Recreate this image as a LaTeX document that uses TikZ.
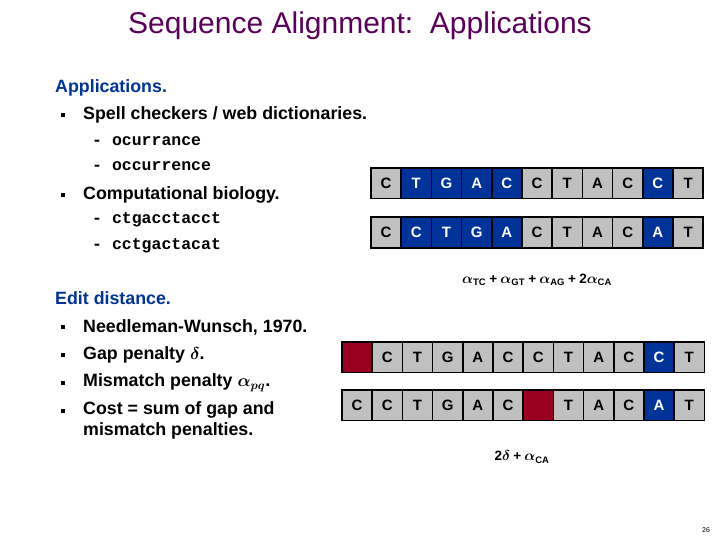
\documentclass[tikz,border=0pt]{standalone}
\usepackage{amsmath,amssymb,bm}
\usepackage{fontspec}
\setmainfont{Liberation Sans}
\setmonofont{Liberation Mono}
\definecolor{ttl}{RGB}{90,0,90}
\definecolor{hd}{RGB}{0,51,153}
\definecolor{cb}{RGB}{0,51,153}
\definecolor{cr}{RGB}{153,0,31}
\definecolor{cg}{RGB}{192,192,192}
\begin{document}
\begin{tikzpicture}[x=1pt,y=-1pt,
  txt/.style={anchor=west,inner sep=0,font=\bfseries\fontsize{17.8}{21}\selectfont},
  code/.style={anchor=west,inner sep=0,font=\ttfamily\bfseries\fontsize{16.5}{19}\selectfont},
  bul/.style={anchor=center,inner sep=0,minimum size=4pt,fill=black},
  cell/.style={draw=black,line width=1.5pt,fill=cg,minimum width=30.2pt,minimum height=30.5pt,inner sep=0,font=\bfseries\fontsize{15}{18}\selectfont},
  bc/.style={cell,fill=cb,text=white},
  rc/.style={cell,fill=cr},
  math/.style={inner sep=0,font=\bfseries\fontsize{13.5}{16}\selectfont}]
\useasboundingbox (0,0) rectangle (720,540);
\node[inner sep=0,text=ttl,font=\fontsize{30}{34}\selectfont] (title) at (360,26) {Sequence Alignment:\ \ Applications};
\node[txt,text=hd] (h1) at (55,88) {Applications.};
\node[bul] (b1) at (63,115) {}; \node[txt] (t1) at (83,115) {Spell checkers / web dictionaries.};
\node[code] (c1) at (92,141) {- ocurrance};
\node[code] (c2) at (92,166) {- occurrence};
\node[bul] (b2) at (63,195) {}; \node[txt] (t2) at (83,195) {Computational biology.};
\node[code] (c3) at (92,220) {- ctgacctacct};
\node[code] (c4) at (92,246) {- cctgactacat};
\node[txt,text=hd] (h2) at (55,298) {Edit distance.};
\node[bul] (b3) at (63,327) {}; \node[txt] (t3) at (83,327) {Needleman-Wunsch, 1970.};
\node[bul] (b4) at (63,355) {}; \node[txt] (t4) at (83,355) {Gap penalty $\bm{\delta}$.};
\node[bul] (b5) at (63,383) {}; \node[txt] (t5) at (83,383) {Mismatch penalty $\bm{\alpha}_{\bm{pq}}$.};
\node[bul] (b6) at (63,411) {}; \node[txt,align=left,anchor=north west] (t6) at (83,401) {Cost = sum of gap and\\mismatch penalties.};
\foreach \l/\s [count=\i] in {C/cell,T/bc,G/bc,A/bc,C/bc,C/cell,T/cell,A/cell,C/cell,C/bc,T/cell}
  \node[\s] (ra\i) at ({371+15.1+30.2*(\i-1)},183.5) {\l};
\foreach \l/\s [count=\i] in {C/cell,C/bc,T/bc,G/bc,A/bc,C/cell,T/cell,A/cell,C/cell,A/bc,T/cell}
  \node[\s] (rb\i) at ({371+15.1+30.2*(\i-1)},232.5) {\l};
\node[math] (m1) at (537,280) {$\bm{\alpha}_{\textbf{TC}}\mathbin{\textbf{+}}\bm{\alpha}_{\textbf{GT}}\mathbin{\textbf{+}}\bm{\alpha}_{\textbf{AG}}\mathbin{\textbf{+}}\textbf{2}\bm{\alpha}_{\textbf{CA}}$};
\foreach \l/\s [count=\i] in {{}/rc,C/cell,T/cell,G/cell,A/cell,C/cell,C/cell,T/cell,A/cell,C/cell,C/bc,T/cell}
  \node[\s] (rc\i) at ({342+15.1+30.2*(\i-1)},357) {\l};
\foreach \l/\s [count=\i] in {C/cell,C/cell,T/cell,G/cell,A/cell,C/cell,{}/rc,T/cell,A/cell,C/cell,A/bc,T/cell}
  \node[\s] (rd\i) at ({342+15.1+30.2*(\i-1)},405) {\l};
\node[math] (m2) at (522,457) {$\textbf{2}\bm{\delta}\mathbin{\textbf{+}}\bm{\alpha}_{\textbf{CA}}$};
\node[inner sep=0,font=\fontsize{7}{8}\selectfont] (pg) at (706,530) {26};
\end{tikzpicture}
\end{document}
